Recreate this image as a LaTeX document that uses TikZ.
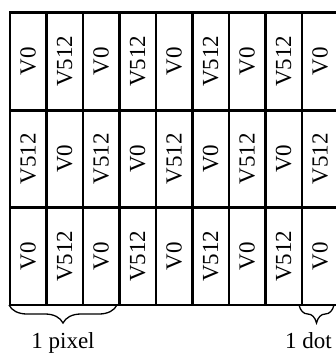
\documentclass[tikz,border=0pt]{standalone}
\usepackage{fontspec}
\setmainfont{Liberation Serif}
\usetikzlibrary{decorations.pathreplacing}
\begin{document}
\begin{tikzpicture}[x=1pt,y=-1pt,
  cellt/.style={rotate=90,inner sep=0pt,font=\fontsize{23}{27}\selectfont},
  gridline/.style={line width=2.8pt,line cap=rect},
  lbl/.style={font=\fontsize{23}{27}\selectfont,anchor=base,inner sep=0pt},
  bracestyle/.style={decorate,decoration={brace,amplitude=18pt,mirror},line width=1.3pt}]
\useasboundingbox (0,0) rectangle (336,354);
\clip (0,0) rectangle (336,354);
\foreach \i in {0,...,9} \draw[gridline] ({10+36.5*\i},12.7) -- ({10+36.5*\i},304.9);
\foreach \j in {0,...,3} \draw[gridline] (10,{12.7+97.4*\j}) -- (338.5,{12.7+97.4*\j});
\foreach \i in {0,...,8}{
  \foreach \j in {0,1,2}{
    \pgfmathtruncatemacro\p{mod(\i+\j,2)}
    \ifnum\p=0 \def\txt{V0}\else\def\txt{V512}\fi
    \node[cellt] (c\i\j) at ({10+36.5*\i+18.25},{12.7+97.4*\j+48.7}) {\txt};
  }
}
\coordinate (pa) at (9,305);
\coordinate (pb) at (117,305);
\draw[bracestyle] (pa) -- (pb);
\coordinate (da) at (299,305);
\coordinate (db) at (334,305);
\draw[bracestyle] (da) -- (db);
\node[lbl] (pixel) at (63,348.5) {1 pixel};
\node[lbl] (dot) at (308.5,348.5) {1 dot};
\end{tikzpicture}
\end{document}
